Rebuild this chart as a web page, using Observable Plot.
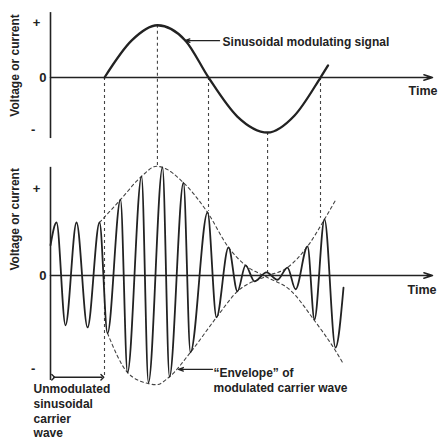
<!DOCTYPE html>
<html><head><meta charset="utf-8">
<script src="https://cdn.jsdelivr.net/npm/d3@7"></script>
<script src="https://cdn.jsdelivr.net/npm/@observablehq/plot@0.6"></script>
<style>
html,body{margin:0;padding:0;background:#fff;}
#chart svg{display:block;}
</style></head><body><div id="chart"></div>
<script>
// ---------- data ----------
// time in arbitrary units (modulating period = 20), amplitude in arbitrary units
const signalT = [0, 2.5, 4.9, 7.5, 9.63, 12.3, 15.1, 17.6, 20, 20.7];
const signalV = [0, 0.67, 0.95, 0.67, 0, -0.71, -1.0, -0.69, 0, 0.22];

const carrierT = [-5.0, -4.44, -3.61, -2.59, -1.57, -0.46, 0.28, 1.48, 2.13, 3.43, 4.07, 5.37, 6.02, 7.31, 7.96, 9.54, 10.37, 11.48, 12.31, 13.06, 13.89, 15.0, 16.02, 16.94, 17.69, 18.8, 19.44, 20.37, 21.39, 22.13];
const carrierA = [0.57, 1.0, -0.94, 1.0, -0.98, 1.0, -1.09, 1.43, -1.83, 1.87, -2.02, 2.04, -1.91, 1.75, -1.45, 1.19, -0.79, 0.53, -0.30, 0.19, -0.11, 0.06, -0.08, 0.15, -0.26, 0.55, -0.83, 1.06, -1.36, -0.23];

const envUpperT = [-0.46, 1.48, 3.43, 4.81, 5.37, 7.31, 9.54, 11.48, 13.06, 14.91, 17.22, 19.44, 21.39, 22.04];
const envUpperA = [1.0, 1.43, 1.87, 2.06, 2.04, 1.75, 1.19, 0.53, 0.19, -0.02, -0.28, -0.85, -1.42, -1.64];
const envLowerT = [0.28, 2.13, 4.07, 4.81, 6.02, 7.96, 10.37, 12.31, 14.91, 16.94, 18.8, 20.37, 21.39];
const envLowerA = [-1.09, -1.83, -2.04, -2.06, -1.91, -1.45, -0.79, -0.30, -0.02, 0.15, 0.55, 1.06, 1.42];

const dropT = [0, 4.9, 9.63, 15.1, 20];
const dropTopFrom = [0, 0.95, 0, -1.0, 0];
const dropBottomTo = [-1.94, 2.04, 1.21, 0, 1.08];

const tickLabels = ["+", "0", "-"];
const tickTopV = [1.0, 0, -0.96];
const tickBottomA = [1.64, 0, -1.77];
const tickT = [-6.3, -5.7, -6.6];

const axisTitle = "Voltage or current";
const timeLabel = "Time";
const signalLabel = "Sinusoidal modulating signal";
const envelopeLabel = "\u201cEnvelope\u201d of\nmodulated carrier wave";
const carrierLabel = "Unmodulated\nsinusoidal\ncarrier\nwave";

// ---------- build ----------
const ink = "#222";
const font = "Liberation Sans, Arial, Helvetica, sans-serif";
const xDomain = [-5, 30.37];
const topY = [-1.327, 1.4];
const botY = [-3.132, 2.358];

const signal = signalT.map((t, i) => ({t, v: signalV[i]}));
const carrier = carrierT.map((t, i) => ({t, a: carrierA[i]}));
const envUpper = envUpperT.map((t, i) => ({t, a: envUpperA[i]}));
const envLower = envLowerT.map((t, i) => ({t, a: envLowerA[i]}));
const dropsTop = dropT.map((t, i) => ({t, from: dropTopFrom[i]}));
const dropsBot = dropT.map((t, i) => ({t, to: dropBottomTo[i]}));
const ticksTop = tickLabels.map((s, i) => ({s, t: tickT[i], v: tickTopV[i]}));
const ticksBot = tickLabels.map((s, i) => ({s, t: tickT[i], a: tickBottomA[i]}));

const base = {
  width: 441, marginLeft: 50, marginRight: 9, marginTop: 0, marginBottom: 0,
  x: {domain: xDomain, axis: null},
  style: {background: "white", fontFamily: font, overflow: "visible", color: ink}
};
const txt = {fill: ink, fontWeight: "bold", fontSize: 12};

const topPlot = Plot.plot({
  ...base, height: 150,
  y: {domain: topY, axis: null},
  marks: [
    Plot.ruleX(dropsTop, {x: "t", y1: "from", y2: topY[0], stroke: "#444", strokeWidth: 1.1, strokeDasharray: "3,3"}),
    Plot.ruleX([xDomain[0]], {y1: -1.11, y2: 1.18, stroke: ink, strokeWidth: 1.6}),
    Plot.arrow([0], {x1: xDomain[0], x2: xDomain[1], y1: 0, y2: 0, stroke: ink, strokeWidth: 1.5, headLength: 9, headAngle: 35}),
    Plot.line(signal, {x: "t", y: "v", curve: "monotone-x", stroke: ink, strokeWidth: 2.3}),
    Plot.text(ticksTop, {x: "t", y: "v", text: "s", ...txt, fontSize: 13}),
    Plot.text([axisTitle], {x: -8.3, y: 0.22, text: d => d, rotate: -90, ...txt}),
    Plot.text([timeLabel], {x: 28.15, y: -0.24, text: d => d, textAnchor: "start", ...txt, fontSize: 12.5}),
    Plot.arrow([0], {x1: 10.65, x2: 7.45, y1: 0.67, y2: 0.67, stroke: ink, strokeWidth: 1.3, headLength: 6, headAngle: 40}),
    Plot.text([signalLabel], {x: 10.93, y: 0.64, text: d => d, textAnchor: "start", ...txt})
  ]
});

const bottomPlot = Plot.plot({
  ...base, height: 291,
  y: {domain: botY, axis: null},
  marks: [
    Plot.ruleX(dropsBot, {x: "t", y1: botY[1], y2: "to", stroke: "#444", strokeWidth: 1.1, strokeDasharray: "3,3"}),
    Plot.line(envUpper, {x: "t", y: "a", curve: "monotone-x", stroke: "#444", strokeWidth: 1.1, strokeDasharray: "3,3"}),
    Plot.line(envLower, {x: "t", y: "a", curve: "monotone-x", stroke: "#444", strokeWidth: 1.1, strokeDasharray: "3,3"}),
    Plot.ruleX([xDomain[0]], {y1: -1.98, y2: 2.04, stroke: ink, strokeWidth: 1.6}),
    Plot.arrow([0], {x1: xDomain[0], x2: xDomain[1], y1: 0, y2: 0, stroke: ink, strokeWidth: 1.5, headLength: 9, headAngle: 35}),
    Plot.line(carrier, {x: "t", y: "a", curve: "monotone-x", stroke: ink, strokeWidth: 1.8}),
    Plot.text(ticksBot, {x: "t", y: "a", text: "s", ...txt, fontSize: 13}),
    Plot.text([axisTitle], {x: -8.3, y: 1.06, text: d => d, rotate: -90, ...txt}),
    Plot.text([timeLabel], {x: 28.06, y: -0.27, text: d => d, textAnchor: "start", ...txt, fontSize: 12.5}),
    Plot.link([0], {x1: -4.75, x2: -0.2, y1: -1.92, y2: -1.92, stroke: ink, strokeWidth: 1.4, markerStart: "arrow", markerEnd: "arrow"}),
    Plot.text([carrierLabel], {x: -6.57, y: -2.55, text: d => d, textAnchor: "start", lineHeight: 1.22, ...txt}),
    Plot.arrow([0], {x1: 10.0, x2: 6.85, y1: -1.77, y2: -1.77, stroke: ink, strokeWidth: 1.3, headLength: 6, headAngle: 40}),
    Plot.text([envelopeLabel], {x: 10.09, y: -1.96, text: d => d, textAnchor: "start", lineHeight: 1.33, ...txt})
  ]
});

document.getElementById("chart").append(topPlot, bottomPlot);
</script>
</body></html>
